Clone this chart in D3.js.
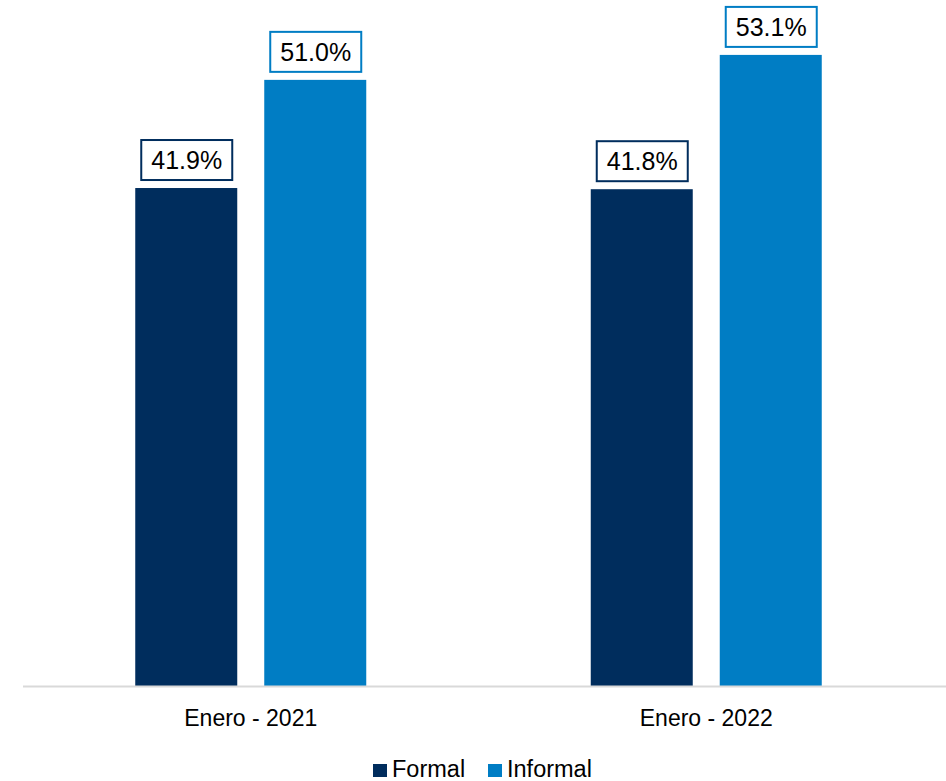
<!DOCTYPE html>
<html>

<head>
    <script src="https://d3js.org/d3.v7.min.js"></script>
    <style>
        body { margin: 0; background: #fff; }
        text { font-family: "Liberation Sans", Arial, sans-serif; fill: #000; }
    </style>
</head>

<body>
    <script>
        // data
        var categories = ["Enero - 2021", "Enero - 2022"];
        var seriesNames = ["Formal", "Informal"];
        var formalValues = [41.9, 41.8];
        var informalValues = [51.0, 53.1];
        var colors = ["#002d5d", "#007dc4"];

        var width = 946, height = 781;
        var baseY = 686;

        var svg = d3.select("body").append("svg")
            .attr("width", width)
            .attr("height", height);

        var x0 = d3.scaleBand()
            .domain(categories)
            .range([23, 934]);

        var groupW = 231;
        var x1 = d3.scaleBand()
            .domain(seriesNames)
            .range([0, groupW])
            .paddingInner(0.2093);

        var y = d3.scaleLinear()
            .domain([0, 60])
            .range([baseY, baseY - 60 * 11.885]);

        var rows = [];
        categories.forEach(function (c, i) {
            rows.push({ cat: c, s: 0, v: formalValues[i] });
            rows.push({ cat: c, s: 1, v: informalValues[i] });
        });

        function barX(d) {
            return x0(d.cat) + (x0.bandwidth() - groupW) / 2 + x1(seriesNames[d.s]);
        }

        svg.append("g").selectAll("rect")
            .data(rows)
            .enter().append("rect")
            .attr("x", barX)
            .attr("y", function (d) { return y(d.v); })
            .attr("width", x1.bandwidth())
            .attr("height", function (d) { return baseY - y(d.v); })
            .attr("fill", function (d) { return colors[d.s]; });

        // axis line
        svg.append("line")
            .attr("x1", 23).attr("x2", width)
            .attr("y1", baseY + 0.5).attr("y2", baseY + 0.5)
            .attr("stroke", "#d9d9d9")
            .attr("stroke-width", 2);

        // value labels with boxes
        var lab = svg.append("g").selectAll("g")
            .data(rows)
            .enter().append("g")
            .attr("transform", function (d) {
                return "translate(" + (barX(d) + x1.bandwidth() / 2) + "," + (y(d.v) - 8) + ")";
            });

        lab.append("rect")
            .attr("x", -45)
            .attr("y", -40)
            .attr("width", 91)
            .attr("height", 40)
            .attr("fill", "#fff")
            .attr("stroke", function (d) { return colors[d.s]; })
            .attr("stroke-width", 2);

        lab.append("text")
            .attr("x", 0.5)
            .attr("y", -11)
            .attr("text-anchor", "middle")
            .style("font-size", "25px")
            .text(function (d) { return d.v.toFixed(1) + "%"; });

        // category labels
        svg.append("g").selectAll("text")
            .data(categories)
            .enter().append("text")
            .attr("x", function (d) { return x0(d) + x0.bandwidth() / 2; })
            .attr("y", 726)
            .attr("text-anchor", "middle")
            .style("font-size", "23px")
            .text(function (d) { return d; });

        // legend
        var legendX = [373, 488];
        var leg = svg.append("g").selectAll("g")
            .data(seriesNames)
            .enter().append("g")
            .attr("transform", function (d, i) { return "translate(" + legendX[i] + ",764)"; });

        leg.append("rect")
            .attr("width", 14).attr("height", 13)
            .attr("fill", function (d, i) { return colors[i]; });

        leg.append("text")
            .attr("x", 19)
            .attr("y", 13)
            .style("font-size", "23.5px")
            .text(function (d) { return d; });
    </script>
</body>

</html>
